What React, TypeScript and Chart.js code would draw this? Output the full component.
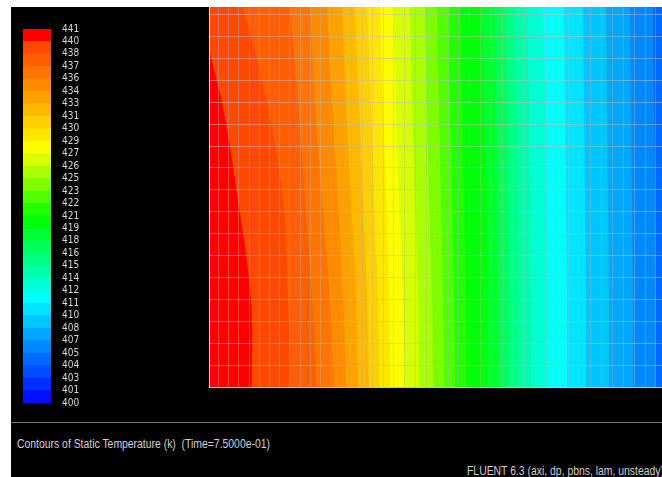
import React, { useEffect, useRef } from 'react';
import { Chart, registerables } from 'chart.js';

Chart.register(...registerables);

// Contour levels (30 bands between 400 K and 441 K)
const levels = [
  400, 401.37, 402.73, 404.1, 405.47, 406.83, 408.2, 409.57, 410.93, 412.3,
  413.67, 415.03, 416.4, 417.77, 419.13, 420.5, 421.87, 423.23, 424.6, 425.97,
  427.33, 428.7, 430.07, 431.43, 432.8, 434.17, 435.53, 436.9, 438.27, 439.63, 441,
];
const levelLabels = [
  '400', '401', '403', '404', '405', '407', '408', '410', '411', '412',
  '414', '415', '416', '418', '419', '421', '422', '423', '425', '426',
  '427', '429', '430', '431', '433', '434', '436', '437', '438', '440', '441',
];

// Heights (mesh-row units above the bottom wall) at which isotherms were read
const rowY = [0, 4, 8.54, 13, 17.35];

// Isotherm x positions (domain units from the left wall), hottest first: levels[29] .. levels[4]
const isoX = [
  [43, 42, 29, 13, -12],
  [81, 79, 74, 58, 34],
  [107, 103, 96, 89, 81],
  [125, 121, 113, 106, 101],
  [137, 134, 129, 123, 118],
  [149, 147, 142, 137, 133],
  [160, 158, 154, 150, 146],
  [170, 169, 165, 162, 158],
  [181, 180, 177, 174, 171],
  [195, 194, 190, 187, 185],
  [210, 209, 206, 203, 201],
  [224, 223, 220, 218, 216],
  [235, 234, 232, 230, 228],
  [246, 245, 243, 241, 240],
  [258, 257, 255, 253, 252],
  [279, 279, 278, 275, 272],
  [290, 290, 289, 287, 285],
  [300, 300, 299, 298, 296],
  [310, 310, 309, 308, 306],
  [322, 322, 321, 320, 318],
  [338, 338, 337, 336, 334],
  [358, 358, 357, 356, 355],
  [377, 377, 376, 375, 374],
  [400, 400, 399, 398, 397],
  [424, 424, 423, 422, 421],
  [447, 447, 446, 445, 444],
];
const firstIsoIndex = 29;

// Computational mesh lines
const meshX = [
  0, 9.8, 19.8, 29.9, 40, 50.2, 60.4, 70.6, 80.9, 91.2, 101.5, 111.8, 122.1, 132.5,
  142.9, 153.3, 163.7, 174.1, 184.4, 195.2, 206.2, 217.1, 228.1, 239, 249.9, 260.9,
  271.8, 282.8, 293.7, 304.6, 315.6, 326.5, 337.5, 348.4, 359.3, 370.3, 381.2, 392.2,
  403.1, 414, 425, 436, 446.9,
];
const meshY = [0, 1, 2, 3, 4, 5, 6, 7, 8, 9, 10, 11, 12, 13, 14, 15, 16, 17];
const domainX = [0, 453];
const domainY = [0, 17.35];

// colour map: fraction of range -> hue
const hueAnchors = [
  [0, 240],
  [0.28, 180],
  [0.49, 120],
  [0.68, 60],
  [0.95, 17],
  [0.983, 0],
  [1, 0],
];

function hsvColor(h: number): string {
  const hp = h / 60;
  const x = 1 - Math.abs((hp % 2) - 1);
  let r = 0, g = 0, b = 0;
  if (hp < 1) { r = 1; g = x; }
  else if (hp < 2) { r = x; g = 1; }
  else if (hp < 3) { g = 1; b = x; }
  else if (hp < 4) { g = x; b = 1; }
  else { r = x; b = 1; }
  if (h >= 240) { r = 0; g = 0; b = 1; }
  return `rgb(${Math.round(r * 255)},${Math.round(g * 255)},${Math.round(b * 255)})`;
}

function bandColor(i: number): string {
  const f = (i + 0.5) / (levels.length - 1);
  let h = 0;
  for (let k = 0; k < hueAnchors.length - 1; k++) {
    const [f0, h0] = hueAnchors[k];
    const [f1, h1] = hueAnchors[k + 1];
    if (f >= f0 && f <= f1) {
      h = h0 + ((h1 - h0) * (f - f0)) / (f1 - f0);
      break;
    }
  }
  return hsvColor(h);
}

const TICK_FONT = '"DejaVu Sans Condensed", "Liberation Sans", sans-serif';
const TEXT_FONT = '"Liberation Sans", Arial, sans-serif';

export default function App() {
  const barRef = useRef<HTMLCanvasElement>(null);
  const fieldRef = useRef<HTMLCanvasElement>(null);

  useEffect(() => {
    const bandDatasets = levels.slice(0, -1).map((lo, i) => ({
      data: [[lo, levels[i + 1]]],
      backgroundColor: bandColor(i),
      borderWidth: 0,
      barPercentage: 1,
      categoryPercentage: 1,
      grouped: false,
    }));

    const bar = new Chart(barRef.current as HTMLCanvasElement, {
      type: 'bar',
      data: { labels: [''], datasets: bandDatasets as any },
      options: {
        responsive: false,
        animation: false,
        events: [],
        layout: { padding: { top: 9, bottom: 9, left: 0, right: 0 } },
        plugins: { legend: { display: false }, tooltip: { enabled: false } },
        scales: {
          x: { display: false },
          y: {
            type: 'linear',
            position: 'right',
            min: levels[0],
            max: levels[levels.length - 1],
            grid: { display: false, drawTicks: true, tickLength: 9 },
            border: { display: false },
            afterBuildTicks: (s: any) => {
              s.ticks = levels.map((v) => ({ value: v }));
            },
            afterFit: (s: any) => {
              s.width = 49;
            },
            ticks: {
              autoSkip: false,
              padding: 2,
              color: '#d8d8d8',
              font: { family: TICK_FONT, size: 10, lineHeight: 1 },
              callback: (_v: any, i: number) => levelLabels[i],
            },
          },
        },
      },
    });

    const isoDatasets: any[] = isoX.map((xs, k) => ({
      data: rowY.map((y, j) => ({ x: xs[j], y })),
      backgroundColor: bandColor(firstIsoIndex - k),
      borderWidth: 0,
      pointRadius: 0,
      fill: 'origin',
      tension: 0.35,
    }));
    isoDatasets.push({
      data: rowY.map((y) => ({ x: domainX[1], y })),
      backgroundColor: bandColor(firstIsoIndex - isoX.length),
      borderWidth: 0,
      pointRadius: 0,
      fill: 'origin',
      tension: 0,
    });

    const field = new Chart(fieldRef.current as HTMLCanvasElement, {
      type: 'line',
      data: { datasets: isoDatasets },
      options: {
        indexAxis: 'y',
        responsive: false,
        animation: false,
        events: [],
        layout: { padding: { top: 0, bottom: 1, left: 0, right: 0 } },
        plugins: { legend: { display: false }, tooltip: { enabled: false } },
        scales: {
          x: {
            type: 'linear',
            position: 'bottom',
            min: domainX[0],
            max: domainX[1],
            afterBuildTicks: (s: any) => {
              s.ticks = meshX.map((v) => ({ value: v }));
            },
            ticks: { display: false },
            grid: { color: 'rgba(175,175,175,0.38)', lineWidth: 1, drawTicks: false, z: 1 },
            border: { display: true, color: 'rgba(235,225,225,0.85)', width: 1, z: 1 },
          },
          y: {
            type: 'linear',
            position: 'left',
            min: domainY[0],
            max: domainY[1],
            afterBuildTicks: (s: any) => {
              s.ticks = meshY.map((v) => ({ value: v }));
            },
            ticks: { display: false },
            grid: { color: 'rgba(190,190,190,0.5)', lineWidth: 1, drawTicks: false, z: 1 },
            border: { display: true, color: 'rgba(235,225,225,0.85)', width: 1, z: 1 },
          },
        },
      },
    });

    return () => {
      bar.destroy();
      field.destroy();
    };
  }, []);

  const textStyle: React.CSSProperties = {
    position: 'absolute',
    fontFamily: TEXT_FONT,
    fontSize: 12.7,
    lineHeight: '12.7px',
    color: '#d0d0d0',
    whiteSpace: 'pre',
    transform: 'scaleX(0.82)',
    transformOrigin: '0 0',
  };

  return (
    <div
      style={{
        position: 'absolute',
        left: 11,
        top: 7,
        width: 651,
        height: 470,
        background: '#000',
        overflow: 'hidden',
      }}
    >
      <canvas
        ref={barRef}
        width={77}
        height={392}
        style={{ position: 'absolute', left: 12, top: 13, width: 77, height: 392 }}
      />
      <canvas
        ref={fieldRef}
        width={453}
        height={381}
        style={{ position: 'absolute', left: 198, top: 0, width: 453, height: 381 }}
      />
      <div style={{ position: 'absolute', left: 0, top: 415, width: 651, height: 1, background: '#707070' }} />
      <div style={{ ...textStyle, left: 6, top: 431 }}>{'Contours of Static Temperature (k)  (Time=7.5000e-01)'}</div>
      <div style={{ ...textStyle, left: 456, top: 458 }}>{'FLUENT 6.3 (axi, dp, pbns, lam, unsteady)'}</div>
    </div>
  );
}
